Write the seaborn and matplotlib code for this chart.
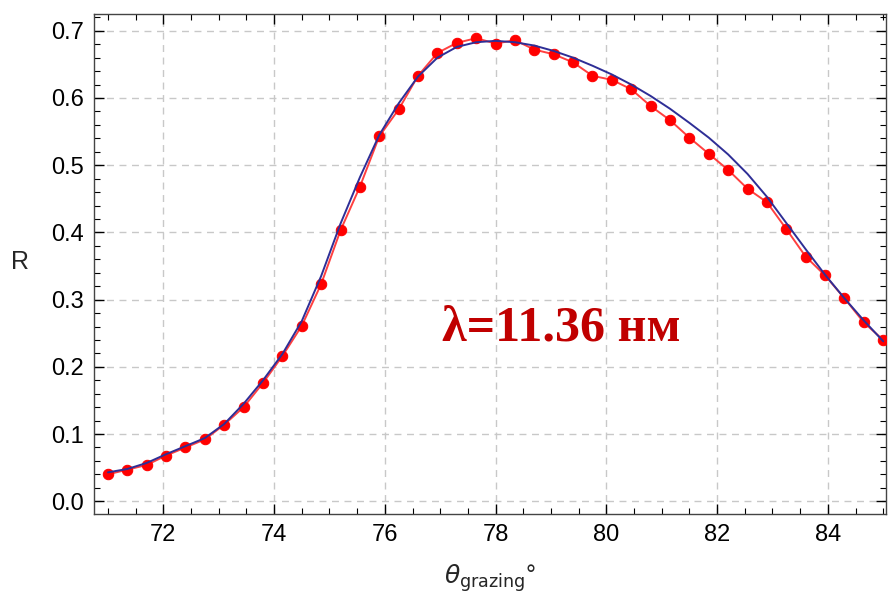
import numpy as np
import pandas as pd
import matplotlib
matplotlib.use("Agg")
import matplotlib.pyplot as plt
from matplotlib.ticker import MultipleLocator
import seaborn as sns

# measured points (red) and calculated curve (blue), same angle grid
theta = [71.00, 71.35, 71.70, 72.05, 72.40, 72.75, 73.10, 73.45, 73.80, 74.15,
         74.50, 74.85, 75.20, 75.55, 75.90, 76.25, 76.60, 76.95, 77.30, 77.65,
         78.00, 78.35, 78.70, 79.05, 79.40, 79.75, 80.10, 80.45, 80.80, 81.15,
         81.50, 81.85, 82.20, 82.55, 82.90, 83.25, 83.60, 83.95, 84.30, 84.65,
         85.00]
r_meas = [0.040, 0.047, 0.054, 0.068, 0.080, 0.092, 0.114, 0.140, 0.176, 0.216,
          0.261, 0.323, 0.403, 0.468, 0.543, 0.583, 0.633, 0.667, 0.682, 0.689,
          0.681, 0.686, 0.672, 0.665, 0.653, 0.633, 0.627, 0.613, 0.588, 0.567,
          0.541, 0.517, 0.493, 0.465, 0.445, 0.405, 0.364, 0.336, 0.302, 0.266,
          0.240]
r_calc = [0.043, 0.048, 0.057, 0.070, 0.082, 0.094, 0.115, 0.145, 0.180, 0.219,
          0.268, 0.335, 0.413, 0.482, 0.545, 0.592, 0.632, 0.660, 0.676, 0.683,
          0.685, 0.683, 0.678, 0.670, 0.660, 0.648, 0.635, 0.620, 0.603, 0.584,
          0.563, 0.541, 0.516, 0.487, 0.453, 0.414, 0.375, 0.337, 0.302, 0.269,
          0.238]

label_text = "λ=11.36 нм"

df = pd.DataFrame({"theta": theta, "meas": r_meas, "calc": r_calc})

sns.set_style("ticks")
plt.rcParams["font.family"] = ["Liberation Sans", "DejaVu Sans"]
plt.rcParams["mathtext.fontset"] = "dejavusans"

fig = plt.figure(figsize=(8.96, 6), dpi=100)
ax = fig.add_axes([0.1044, 0.1433, 0.8844, 0.8334])

sns.lineplot(data=df, x="theta", y="meas", ax=ax, color="#ff4040", lw=1.4,
             marker="o", markersize=7.5, markerfacecolor="#ff0000",
             markeredgecolor="#ff0000", zorder=3)
sns.lineplot(data=df, x="theta", y="calc", ax=ax, color="#2e2e96", lw=1.4,
             zorder=4)

ax.set_xlim(70.74, 85.05)
ax.set_ylim(-0.019, 0.725)
ax.xaxis.set_major_locator(MultipleLocator(2))
ax.xaxis.set_minor_locator(MultipleLocator(0.5))
ax.yaxis.set_minor_locator(MultipleLocator(0.02))
ax.set_yticks(np.arange(0, 0.71, 0.1))
ax.set_yticklabels([f"{v:.1f}" for v in np.arange(0, 0.71, 0.1)])

ax.tick_params(which="both", direction="in", top=True, right=True,
               labeltop=False, labelright=False, colors="#000000")
ax.tick_params(which="major", length=7, width=1, labelsize=17, pad=7)
ax.tick_params(which="minor", length=4, width=0.8)
for s in ax.spines.values():
    s.set_color("#444444")
    s.set_linewidth(1.0)

ax.grid(True, which="major", color="#c8c8c8", linestyle=(0, (5, 4)), lw=1.0)
ax.set_axisbelow(True)

ax.set_xlabel(r"$\theta_{\rm grazing}$°", fontsize=18, labelpad=12)
ax.set_ylabel("R", fontsize=18, rotation=0)
ax.yaxis.set_label_coords(-0.093, 0.48)

ax.text(79.19, 0.257, label_text, color="#c00000", fontsize=36,
        fontweight="bold", family=["Liberation Serif", "DejaVu Serif"],
        ha="center", va="center", zorder=5)

fig.savefig("out.png", dpi=100)
